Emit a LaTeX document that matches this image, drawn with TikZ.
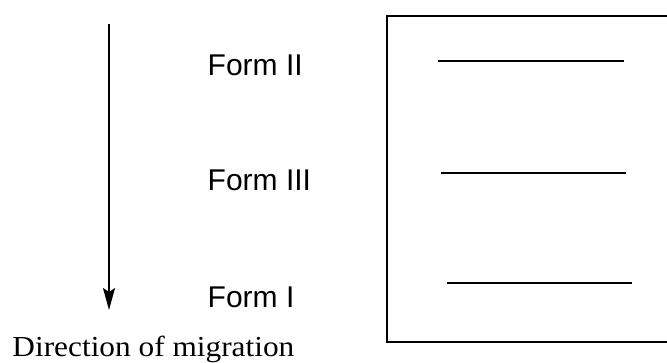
\documentclass[tikz,border=0pt]{standalone}
\usepackage{fontspec}
\setmainfont{Liberation Serif}
\newfontfamily\labelfont{Liberation Sans}
\usetikzlibrary{arrows.meta}
\begin{document}
\begin{tikzpicture}[x=1pt,y=-1pt,
  formlabel/.style={anchor=base west,inner sep=0pt,font=\labelfont\fontsize{30}{36}\selectfont},
  caption/.style={anchor=base west,inner sep=0pt,font=\fontsize{29}{34}\selectfont},
  band/.style={line width=1.5pt},
  plate/.style={line width=2pt},
  flow/.style={line width=1.5pt,-{Stealth[length=22pt,width=12pt,inset=4pt]}}]
  \useasboundingbox (0,0) rectangle (667,363);
  \clip (0,0) rectangle (667,363);

  % migration arrow
  \coordinate (top) at (109,24);
  \coordinate (tip) at (109,310);
  \draw[flow] (top) -- (tip);

  % polymorph labels
  \node[formlabel] (f2) at (207.5,76) {Form II};
  \node[formlabel] (f3) at (207.5,191) {Form III};
  \node[formlabel] (f1) at (207.5,308) {Form I};
  \node[caption] (dir) at (12.3,356.5) {\scalebox{1.08}[1]{Direction of migration}};

  % plate with bands
  \draw[plate] (387,16) rectangle (700,342);
  \coordinate (b2a) at (438,61);  \coordinate (b2b) at (624,61);
  \coordinate (b3a) at (441,173); \coordinate (b3b) at (626,173);
  \coordinate (b1a) at (447,283); \coordinate (b1b) at (632,283);
  \draw[band] (b2a) -- (b2b);
  \draw[band] (b3a) -- (b3b);
  \draw[band] (b1a) -- (b1b);
\end{tikzpicture}
\end{document}
